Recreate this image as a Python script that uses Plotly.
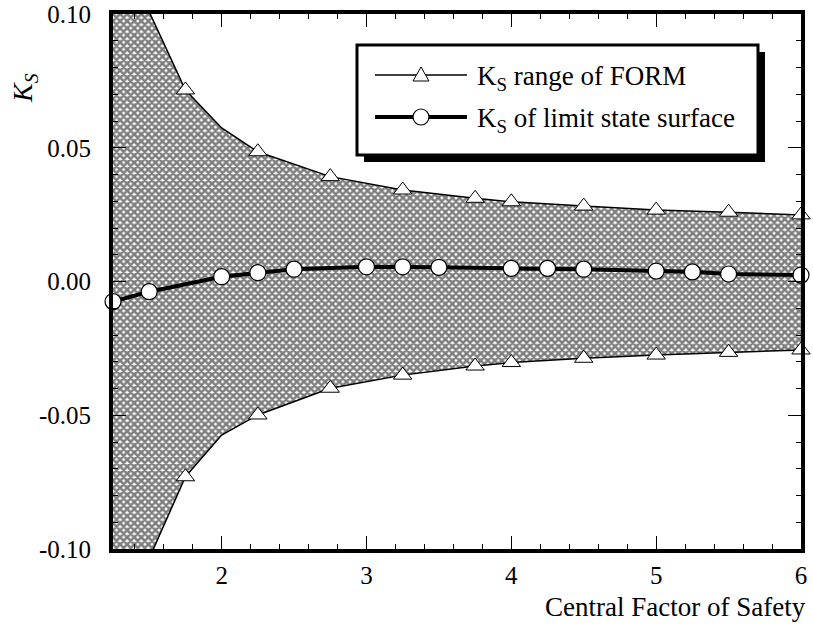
import plotly.graph_objects as go

# ---------------- data ----------------
x_band = [1.25, 1.5, 1.75, 2.0, 2.25, 2.75, 3.25, 3.75, 4.0, 4.5, 5.0, 5.5, 6.0]
ks_upper = [0.130, 0.1007, 0.0716, 0.0574, 0.0485, 0.0392, 0.0342, 0.0311, 0.0298, 0.0282, 0.0267, 0.0259, 0.0249]
ks_lower = [-0.133, -0.1035, -0.0730, -0.0574, -0.0499, -0.0399, -0.0350, -0.0316, -0.0303, -0.0287, -0.0275, -0.0265, -0.0256]
x_tri_marked = [1.75, 2.25, 2.75, 3.25, 3.75, 4.0, 4.5, 5.0, 5.5, 6.0]

x_lss = [1.25, 1.5, 2.0, 2.25, 2.5, 3.0, 3.25, 3.5, 4.0, 4.25, 4.5, 5.0, 5.25, 5.5, 6.0]
ks_lss = [-0.0075, -0.0038, 0.0018, 0.0033, 0.0046, 0.0055, 0.0055, 0.0053, 0.0049, 0.0049, 0.0046, 0.0039, 0.0036, 0.0028, 0.0024]

x_tickvals = [2, 3, 4, 5, 6]
x_ticktext = ["2", "3", "4", "5", "6"]
y_tickvals = [-0.10, -0.05, 0.0, 0.05, 0.10]
y_ticktext = ["-0.10", "-0.05", "0.00", "0.05", "0.10"]

name_form = "K<sub>S</sub> range of FORM"
name_lss = "K<sub>S</sub> of limit state surface"

FONT = "Liberation Serif"

# ---------------- layout helpers (pixel -> paper) ----------------
W, H = 813, 639
ML, MR, MT, MB = 113, 12, 14, 90
PW, PH = W - ML - MR, H - MT - MB


def px(xp):
    return (xp - ML) / PW


def py(yp):
    return (H - MB - yp) / PH


fig = go.Figure()

# band (upper line, then lower line filled to upper with hatch pattern)
fig.add_trace(go.Scatter(x=x_band, y=ks_upper, mode="lines",
                         line=dict(color="black", width=1.5), hoverinfo="skip",
                         showlegend=False))
fig.add_trace(go.Scatter(x=x_band, y=ks_lower, mode="lines",
                         line=dict(color="black", width=1.5), fill="tonexty",
                         fillcolor="white",
                         fillpattern=dict(shape="x", size=5, solidity=0.75,
                                          fgcolor="black", bgcolor="white"),
                         hoverinfo="skip", showlegend=False))

# triangle markers on band edges
tri_x, tri_up, tri_lo = [], [], []
for xv, u, l in zip(x_band, ks_upper, ks_lower):
    if xv in x_tri_marked:
        tri_x.append(xv)
        tri_up.append(u)
        tri_lo.append(l)

tri_marker = dict(symbol="triangle-up", size=16, color="white",
                  line=dict(color="black", width=1))
fig.add_trace(go.Scatter(x=tri_x + tri_x, y=tri_up + tri_lo, mode="markers",
                         marker=tri_marker, cliponaxis=False, name=name_form,
                         showlegend=False))

# limit state surface line
fig.add_trace(go.Scatter(x=x_lss, y=ks_lss, mode="lines+markers",
                         line=dict(color="black", width=4),
                         marker=dict(symbol="circle", size=16, color="white",
                                     line=dict(color="black", width=1.2)),
                         cliponaxis=False, name=name_lss, showlegend=False))

axis_common = dict(showline=True, linecolor="black", linewidth=4, mirror="allticks",
                   ticks="inside", ticklen=13, tickwidth=1, tickcolor="black",
                   showgrid=False, zeroline=False, automargin=False,
                   ticklabeloverflow="allow",
                   tickfont=dict(family=FONT, size=25, color="black"))

fig.update_xaxes(range=[1.25, 6.0], tickvals=x_tickvals, ticktext=x_ticktext,
                 minor=dict(dtick=0.2, tick0=0, ticks="inside", ticklen=5, tickwidth=1,
                            tickcolor="black", showgrid=False),
                 ticklabelstandoff=1, **axis_common)
fig.update_yaxes(range=[-0.10, 0.10], tickvals=y_tickvals, ticktext=y_ticktext,
                 minor=dict(dtick=0.01, tick0=0, ticks="inside", ticklen=5, tickwidth=1,
                            tickcolor="black", showgrid=False),
                 ticklabelstandoff=13, **axis_common)

# ---------------- manual legend box with shadow ----------------
shapes = []
shapes.append(dict(type="rect", xref="paper", yref="paper",
                   x0=px(364), x1=px(765), y0=py(162), y1=py(52),
                   fillcolor="black", line=dict(width=0), layer="above"))
shapes.append(dict(type="rect", xref="paper", yref="paper",
                   x0=px(357), x1=px(758), y0=py(155), y1=py(45),
                   fillcolor="white", line=dict(color="black", width=3), layer="above"))
row1, row2 = 75, 117
shapes.append(dict(type="line", xref="paper", yref="paper",
                   x0=px(375), x1=px(467), y0=py(row1), y1=py(row1),
                   line=dict(color="black", width=1.5), layer="above"))
shapes.append(dict(type="line", xref="paper", yref="paper",
                   x0=px(375), x1=px(467), y0=py(row2), y1=py(row2),
                   line=dict(color="black", width=4), layer="above"))
shapes.append(dict(type="path", xref="paper", yref="paper",
                   xsizemode="pixel", ysizemode="pixel",
                   xanchor=px(421), yanchor=py(row1),
                   path="M -8,-6 L 8,-6 L 0,8 Z",
                   fillcolor="white", line=dict(color="black", width=1), layer="above"))
shapes.append(dict(type="circle", xref="paper", yref="paper",
                   xsizemode="pixel", ysizemode="pixel",
                   xanchor=px(421), yanchor=py(row2),
                   x0=-8, x1=8, y0=-8, y1=8,
                   fillcolor="white", line=dict(color="black", width=1.2), layer="above"))

annotations = [
    dict(text=name_form, xref="paper", yref="paper", x=px(475), y=py(row1 + 3),
         xanchor="left", yanchor="middle", showarrow=False,
         font=dict(family=FONT, size=27, color="black")),
    dict(text=name_lss, xref="paper", yref="paper", x=px(475), y=py(row2 + 3),
         xanchor="left", yanchor="middle", showarrow=False,
         font=dict(family=FONT, size=27, color="black")),
    # y axis title
    dict(text="<i>K<sub>S</sub></i>", xref="paper", yref="paper", x=px(24), y=py(88),
         xanchor="center", yanchor="middle", textangle=-90, showarrow=False,
         font=dict(family=FONT, size=28, color="black")),
    # x axis title
    dict(text="Central Factor of Safety", xref="paper", yref="paper", x=px(808), y=py(607),
         xanchor="right", yanchor="middle", showarrow=False,
         font=dict(family=FONT, size=27, color="black")),
]

fig.update_layout(width=W, height=H, margin=dict(l=ML, r=MR, t=MT, b=MB, autoexpand=False),
                  plot_bgcolor="white", paper_bgcolor="white", showlegend=False,
                  font=dict(family=FONT, color="black"),
                  shapes=shapes, annotations=annotations)

fig.write_html("out.html", config={"displayModeBar": False},
               post_script="document.body.style.margin='0px';document.body.style.overflow='hidden';")
